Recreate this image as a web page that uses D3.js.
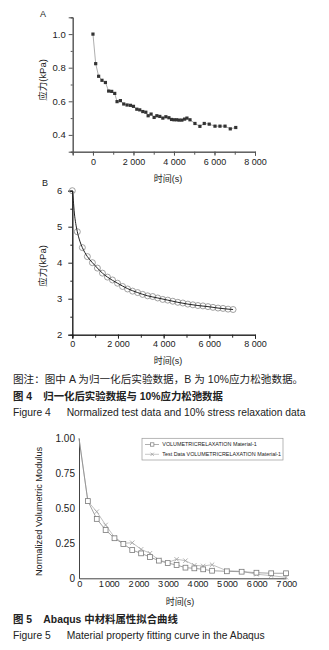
<!DOCTYPE html>
<html>
<head>
<meta charset="utf-8">
<script src="https://cdn.jsdelivr.net/npm/d3@7"></script>
<style>
  body { margin: 0; background: #fff; }
  text { font-family: "Liberation Sans", Arial, "Noto Sans CJK SC", sans-serif; fill: #222; }
</style>
</head>
<body>
<div id="chart"></div>
<script>
// Figure 4A - normalized test data
const timeA = [0, 135, 280, 445, 615, 775, 925, 1075, 1190, 1355, 1520, 1685, 1850, 2000, 2165, 2310,
  2460, 2610, 2725, 2870, 3020, 3155, 3300, 3450, 3600, 3750, 3880, 4000, 4130, 4255, 4390, 4525,
  4640, 4790, 5035, 5280, 5495, 5740, 6025, 6270, 6520, 6780, 7050];
const stressA = [1.0, 0.824, 0.749, 0.725, 0.712, 0.661, 0.659, 0.647, 0.598, 0.604, 0.584, 0.578, 0.576, 0.57, 0.553, 0.549,
  0.539, 0.535, 0.514, 0.524, 0.504, 0.514, 0.51, 0.5, 0.508, 0.502, 0.492, 0.49, 0.49, 0.488, 0.488, 0.494,
  0.5, 0.49, 0.468, 0.451, 0.468, 0.464, 0.452, 0.452, 0.452, 0.436, 0.444];

// Figure 4B - 10% stress relaxation data and fitted curve
const timeB = [0, 220, 440, 660, 880, 1100, 1320, 1540, 1760, 1980, 2200, 2420, 2640, 2860, 3080, 3300, 3520,
  3740, 3960, 4180, 4400, 4620, 4840, 5060, 5280, 5500, 5720, 5940, 6160, 6380, 6600, 6820, 7040];
const stressB = [6.0, 4.86, 4.42, 4.17, 4.0, 3.85, 3.71, 3.6, 3.52, 3.43, 3.34, 3.27, 3.21, 3.17, 3.12, 3.08, 3.06,
  3.02, 2.98, 2.96, 2.93, 2.9, 2.88, 2.85, 2.83, 2.81, 2.8, 2.78, 2.76, 2.74, 2.73, 2.71, 2.7];
const fitTimeB = [0, 45, 90, 150, 220, 330, 440, 660, 880, 1100, 1320, 1540, 1760, 1980, 2420, 2860, 3300,
  3740, 4180, 4620, 5060, 5500, 5940, 6380, 6820, 7040];
const fitStressB = [6.0, 5.72, 5.38, 5.09, 4.86, 4.6, 4.42, 4.17, 4.0, 3.85, 3.71, 3.6, 3.51, 3.43, 3.28, 3.17, 3.08,
  3.02, 2.96, 2.9, 2.85, 2.81, 2.78, 2.74, 2.71, 2.7];

// Figure 5 - Abaqus fitting
const timeC = [0, 300, 600, 900, 1200, 1500, 1800, 2100, 2400, 2700, 3000, 3300, 3600, 3900, 4200, 4500,
  5000, 5500, 6000, 6500, 7000];
const abaqusC = [1.0, 0.552, 0.424, 0.345, 0.286, 0.245, 0.202, 0.178, 0.152, 0.126, 0.109, 0.095, 0.076, 0.071,
  0.064, 0.054, 0.05, 0.047, 0.04, 0.036, 0.036];
const testC = [1.0, 0.55, 0.476, 0.381, 0.293, 0.25, 0.254, 0.207, 0.179, 0.131, 0.112, 0.136, 0.126, 0.093,
  0.088, 0.097, 0.054, 0.05, 0.029, 0.019, 0.007];
const legendC = ["VOLUMETRICRELAXATION Material-1", "Test Data VOLUMETRICRELAXATION Material-1"];

// tick labels
const xTicksA = [0, 2000, 4000, 6000, 8000];
const yTicksA = [0.4, 0.6, 0.8, 1.0];
const xTicksB = [0, 2000, 4000, 6000, 8000];
const yTicksB = [2, 3, 4, 5, 6];
const xTicksC = [0, 1000, 2000, 3000, 4000, 5000, 6000, 7000];
const yTicksC = [0, 0.25, 0.5, 0.75, 1.0];

const W = 329, H = 650;
const svg = d3.select("#chart").append("svg")
  .attr("width", W)
  .attr("height", H);
svg.append("rect").attr("width", W).attr("height", H).attr("fill", "#fff");

const spaced = d => d3.format(",")(d).replace(/,/g, " ");
const thin = d => d3.format(",")(d).replace(/,/g, "\u2009");

// helper to style an axis group
const styleAxis = (g, color, size) => {
  g.select(".domain").attr("stroke", color);
  g.selectAll(".tick line").attr("stroke", color);
  g.selectAll("text").attr("font-size", size).attr("fill", "#222")
    .attr("font-family", '"Liberation Sans", Arial, sans-serif');
};

// ---------- Figure 4A ----------
const xA = d3.scaleLinear().domain([-1000, 8000]).range([72.7, 255]);
const yA = d3.scaleLinear().domain([0.3, 1.1]).range([151.7, 17.3]);
const gA = svg.append("g");

// minor ticks
gA.append("g").attr("transform", "translate(0,151.7)")
  .call(d3.axisBottom(xA).tickValues(d3.range(-1000, 8001, 1000)).tickSize(3).tickFormat(""))
  .call(g => styleAxis(g, "#555", 9));
gA.append("g").attr("transform", "translate(0,151.7)")
  .call(d3.axisBottom(xA).tickValues(xTicksA).tickSize(4).tickPadding(3).tickFormat(spaced))
  .call(g => styleAxis(g, "#555", 9));
gA.append("g").attr("transform", "translate(72.7,0)")
  .call(d3.axisLeft(yA).tickValues([0.3, 0.5, 0.7, 0.9, 1.1]).tickSize(2).tickFormat(""))
  .call(g => styleAxis(g, "#555", 9));
gA.append("g").attr("transform", "translate(72.7,0)")
  .call(d3.axisLeft(yA).tickValues(yTicksA).tickSize(4).tickPadding(3).tickFormat(d3.format(".1f")))
  .call(g => styleAxis(g, "#555", 9.5));

const ptsA = timeA.map((t, i) => ({ t: t, v: stressA[i] }));
gA.append("path")
  .datum(ptsA)
  .attr("fill", "none")
  .attr("stroke", "#999")
  .attr("stroke-width", 0.8)
  .attr("d", d3.line().x(d => xA(d.t)).y(d => yA(d.v)));
gA.selectAll("rect.pt")
  .data(ptsA)
  .join("rect")
  .attr("class", "pt")
  .attr("x", d => xA(d.t) - 1.6)
  .attr("y", d => yA(d.v) - 1.6)
  .attr("width", 3.2)
  .attr("height", 3.2)
  .attr("fill", "#333");

gA.append("text").attr("x", 40).attr("y", 17).attr("font-size", 9).text("A");
gA.append("text")
  .attr("transform", "translate(46,80) rotate(-90)")
  .attr("text-anchor", "middle")
  .attr("font-size", 9.5)
  .text("应力(kPa)");
gA.append("text").attr("x", 168).attr("y", 181.5).attr("text-anchor", "middle")
  .attr("font-size", 9).text("时间(s)");

// ---------- Figure 4B ----------
const xB = d3.scaleLinear().domain([0, 8000]).range([72.3, 255]);
const yB = d3.scaleLinear().domain([2, 6]).range([334.7, 190.7]);
const gB = svg.append("g");

gB.append("g").attr("transform", "translate(0,334.7)")
  .call(d3.axisBottom(xB).tickValues(d3.range(0, 8001, 1000)).tickSize(3).tickFormat(""))
  .call(g => styleAxis(g, "#222", 9));
gB.append("g").attr("transform", "translate(0,334.7)")
  .call(d3.axisBottom(xB).tickValues(xTicksB).tickSize(4).tickPadding(2).tickFormat(spaced))
  .call(g => styleAxis(g, "#222", 9));
gB.append("g").attr("transform", "translate(72.3,0)")
  .call(d3.axisLeft(yB).tickValues([2.5, 3.5, 4.5, 5.5]).tickSize(2).tickFormat(""))
  .call(g => styleAxis(g, "#222", 9));
gB.append("g").attr("transform", "translate(72.3,0)")
  .call(d3.axisLeft(yB).tickValues(yTicksB).tickSize(4).tickPadding(6).tickFormat(d3.format("d")))
  .call(g => styleAxis(g, "#222", 9.5));

const ptsB = timeB.map((t, i) => ({ t: t, v: stressB[i] }));
const fitB = fitTimeB.map((t, i) => ({ t: t, v: fitStressB[i] }));
gB.selectAll("circle.pt")
  .data(ptsB)
  .join("circle")
  .attr("class", "pt")
  .attr("cx", d => xB(d.t))
  .attr("cy", d => yB(d.v))
  .attr("r", 3)
  .attr("fill", "none")
  .attr("stroke", "#8a8a8a")
  .attr("stroke-width", 0.8);
gB.append("path")
  .datum(fitB)
  .attr("fill", "none")
  .attr("stroke", "#222")
  .attr("stroke-width", 1)
  .attr("d", d3.line().curve(d3.curveMonotoneX).x(d => xB(d.t)).y(d => yB(d.v)));

gB.append("text").attr("x", 42).attr("y", 185.5).attr("font-size", 9).text("B");
gB.append("text")
  .attr("transform", "translate(46,266) rotate(-90)")
  .attr("text-anchor", "middle")
  .attr("font-size", 9.5)
  .text("应力(kPa)");
gB.append("text").attr("x", 168).attr("y", 364).attr("text-anchor", "middle")
  .attr("font-size", 9).text("时间(s)");

// ---------- captions of Figure 4 ----------
const cap = svg.append("g");
cap.append("text").attr("x", 13).attr("y", 382.5).attr("font-size", 10.6)
  .text("图注：图中 A 为归一化后实验数据，B 为 10%应力松弛数据。");
cap.append("text").attr("x", 13).attr("y", 400.3).attr("font-size", 10.4).attr("font-weight", "bold")
  .text("图 4");
cap.append("text").attr("x", 43.3).attr("y", 400.3).attr("font-size", 10.4).attr("font-weight", "bold")
  .text("归一化后实验数据与 10%应力松弛数据");
cap.append("text").attr("x", 13).attr("y", 415.8).attr("font-size", 10.3)
  .text("Figure 4");
cap.append("text").attr("x", 66.7).attr("y", 415.8).attr("font-size", 10.3)
  .text("Normalized test data and 10% stress relaxation data");

// ---------- Figure 5 ----------
const xC = d3.scaleLinear().domain([0, 7000]).range([79, 286]);
const yC = d3.scaleLinear().domain([0, 1]).range([578.3, 438.3]);
const gC = svg.append("g");

gC.append("g").attr("transform", "translate(0,578.3)")
  .call(d3.axisBottom(xC).tickValues(xTicksC).tickSize(0).tickPadding(2).tickFormat(thin))
  .call(g => styleAxis(g, "#444", 9.2))
  .call(g => g.selectAll("text").attr("letter-spacing", -0.35));
gC.append("g").attr("transform", "translate(79,0)")
  .call(d3.axisLeft(yC).tickValues(yTicksC).tickSize(0).tickPadding(4)
    .tickFormat(d => d === 0 ? "0" : d3.format(".2f")(d)))
  .call(g => styleAxis(g, "#444", 10));

const ptsAbq = timeC.map((t, i) => ({ t: t, v: abaqusC[i] }));
const ptsTest = timeC.map((t, i) => ({ t: t, v: testC[i] }));
const lineC = d3.line().x(d => xC(d.t)).y(d => yC(d.v));

gC.append("path").datum(ptsTest)
  .attr("fill", "none").attr("stroke", "#b0b0b0").attr("stroke-width", 0.8).attr("d", lineC);
gC.append("path").datum(ptsAbq)
  .attr("fill", "none").attr("stroke", "#8c8c8c").attr("stroke-width", 0.8).attr("d", lineC);

const cross = (g, cx, cy, s) => {
  g.append("path")
    .attr("d", `M${cx - s},${cy - s}L${cx + s},${cy + s}M${cx - s},${cy + s}L${cx + s},${cy - s}`)
    .attr("stroke", "#a0a0a0").attr("stroke-width", 0.8).attr("fill", "none");
};
ptsTest.slice(1).forEach(d => cross(gC, xC(d.t), yC(d.v), 2.2));
gC.selectAll("rect.sq")
  .data(ptsAbq.slice(1))
  .join("rect")
  .attr("class", "sq")
  .attr("x", d => xC(d.t) - 2.4)
  .attr("y", d => yC(d.v) - 2.4)
  .attr("width", 4.8)
  .attr("height", 4.8)
  .attr("fill", "#fff")
  .attr("stroke", "#7a7a7a")
  .attr("stroke-width", 0.8);

// legend
const leg = gC.append("g");
leg.append("rect")
  .attr("x", 142).attr("y", 438.3).attr("width", 141).attr("height", 21.7)
  .attr("fill", "#fff").attr("stroke", "#999").attr("stroke-width", 0.7);
legendC.forEach((name, i) => {
  const ly = 444.5 + i * 9.8;
  leg.append("line").attr("x1", 145).attr("x2", 159).attr("y1", ly).attr("y2", ly)
    .attr("stroke", i === 0 ? "#8c8c8c" : "#b0b0b0").attr("stroke-width", 0.7);
  if (i === 0) {
    leg.append("rect").attr("x", 150.5).attr("y", ly - 1.7).attr("width", 3.4).attr("height", 3.4)
      .attr("fill", "#fff").attr("stroke", "#7a7a7a").attr("stroke-width", 0.7);
  } else {
    cross(leg, 152.2, ly, 1.6);
  }
  leg.append("text").attr("x", 162.3).attr("y", ly + 1.9).attr("font-size", 5.4)
    .attr("fill", "#444").text(name);
});

gC.append("text")
  .attr("transform", "translate(41.5,511.5) rotate(-90)")
  .attr("text-anchor", "middle")
  .attr("font-size", 9.2)
  .text("Normalized Volumetric Modulus");
gC.append("text").attr("x", 180).attr("y", 604.5).attr("text-anchor", "middle")
  .attr("font-size", 9).text("时间(s)");

// ---------- captions of Figure 5 ----------
cap.append("text").attr("x", 13).attr("y", 622.8).attr("font-size", 10.4).attr("font-weight", "bold")
  .text("图 5");
cap.append("text").attr("x", 43.3).attr("y", 622.8).attr("font-size", 10.4).attr("font-weight", "bold")
  .text("Abaqus 中材料属性拟合曲线");
cap.append("text").attr("x", 13).attr("y", 638.5).attr("font-size", 10.3)
  .text("Figure 5");
cap.append("text").attr("x", 66.7).attr("y", 638.5).attr("font-size", 10.3)
  .text("Material property fitting curve in the Abaqus");
</script>
</body>
</html>
